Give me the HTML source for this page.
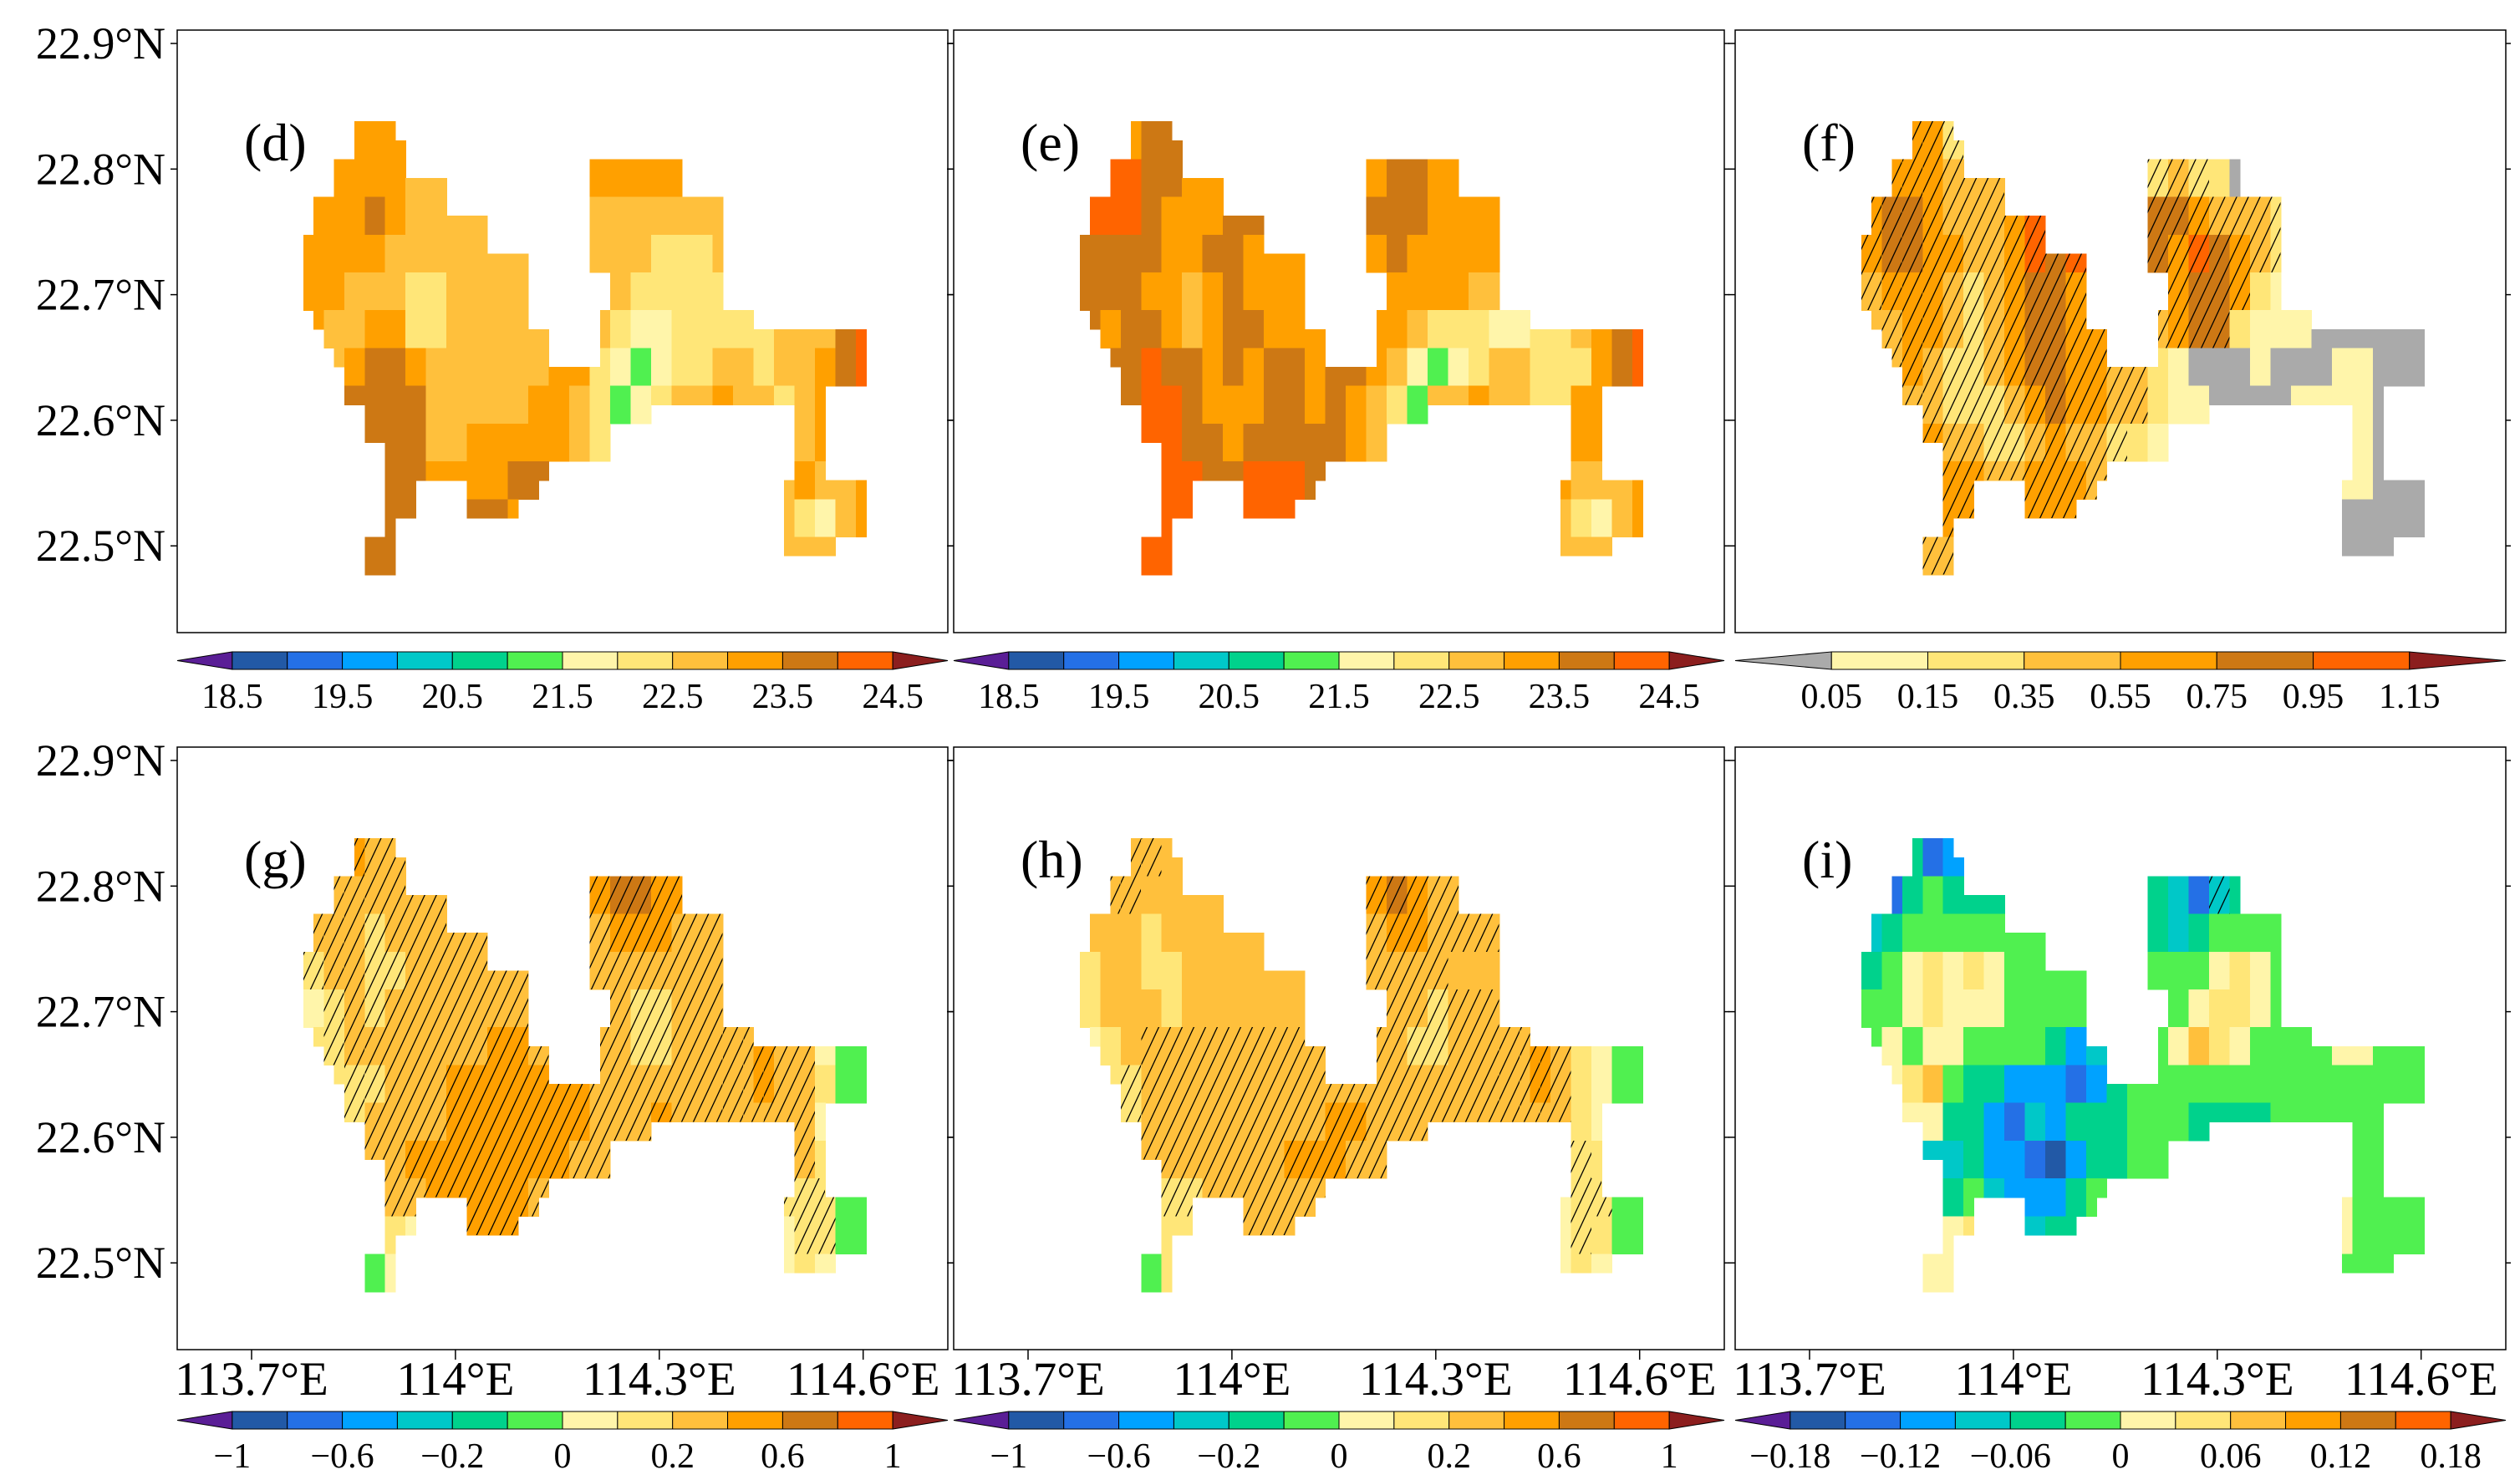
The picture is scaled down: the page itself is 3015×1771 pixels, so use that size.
<!DOCTYPE html>
<html><head><meta charset="utf-8"><title>Shenzhen maps</title>
<style>html,body{margin:0;padding:0;background:#fff}svg{display:block}</style></head>
<body>
<svg id="fig" xmlns="http://www.w3.org/2000/svg" width="3015" height="1771" viewBox="0 0 3015 1771">
<defs>
<pattern id="hatch" patternUnits="userSpaceOnUse" width="14" height="30">
<line x1="-7" y1="45" x2="21" y2="-15" stroke="#000" stroke-width="1.3"/>
<line x1="7" y1="45" x2="35" y2="-15" stroke="#000" stroke-width="1.3"/>
<line x1="-21" y1="45" x2="7" y2="-15" stroke="#000" stroke-width="1.3"/>
</pattern>
</defs>
</svg>
<script>
// ---- data ----
const panelNames = ['d','e','f','g','h','i'];
const latTicks = [22.5, 22.6, 22.7, 22.8, 22.9];
const lonTicks = [113.7, 114.0, 114.3, 114.6];
const lonTickLabels = ['113.7°E','114°E','114.3°E','114.6°E'];
const cbTicksTemp = ['18.5','19.5','20.5','21.5','22.5','23.5','24.5'];
const cbTicksF = ['0.05','0.15','0.35','0.55','0.75','0.95','1.15'];
const cbTicksDiff = ['−1','−0.6','−0.2','0','0.2','0.6','1'];
const cbTicksI = ['−0.18','−0.12','−0.06','0','0.06','0.12','0.18'];
// grid: fine mask runs per row (column index ranges), 24 rows x 55 cols
const maskRuns = [
 [5,8],[5,9],[3,9,28,36],[3,13,28,36],[1,13,28,40],[1,17,28,40],[0,17,28,40],[0,21,28,40],
 [0,21,30,40],[0,21,30,40],[1,21,29,43],[2,23,29,54],[3,23,29,54],[4,54],[4,50],[6,33,48,50],
 [6,29,48,50],[8,29,48,50],[8,23,48,50],[8,10,16,22,47,54],[8,10,16,20,47,54],[8,8,47,54],[6,8,47,51],[6,8]
];
// level codes per 2x2 block (uppercase = hatched / significant)
const dVals = [
 "..kkk.......................",
 ".kkkkjj.......kkkkk.........",
 "kkklkjjjj.....jjjjjjj.......",
 "kkkkjjjjjjj...jjjiiij.......",
 "kkjjjiijjjj....jiiiii.......",
 "kjjkkiijjjjj..jihhiiiiijjjlm",
 "jjkllkjjjjjjkkihghiijjijjklm",
 "jjlllljjjjjkkjighijjkjjijkkl",
 "...llljjkkkkkji.........jk..",
 "....llkkkkll...........jkjjk",
 "....ll..llk............jihjk",
 "...ll..................jjj.."];
const eVals = [
 "..kll.......................",
 ".mmllkk.......kllkk.........",
 "mmmlkkkll.....lllkkkk.......",
 "llllkkllkkk...klkkkkk.......",
 "lllkkjklkkk....kkkkjj.......",
 "lkllkjkllkkk..kkjiiihhiijklm",
 "lllmllklkllkllkjhghijjiiiklm",
 "lllmmlkkkllklkjigjjkjjiikkkm",
 "...mmllklllllkj.........kk..",
 "....mmllmmml...........kjjjk",
 "....mm..mmm............jihjk",
 "...mm..................jjj.."];
const fVals = [
 "..EEC.......................",
 ".EEEDDD.......CDCca.........",
 "EFFEDDDEG.....FFEDDDC.......",
 "EFFEEDDEGFG...FEGFEDC.......",
 "DEEEDCDEFFE....EFFEcb.......",
 "dDEEDCDEFFEE..DEFFcbbbaaaaaa",
 "DDEDCCDEFFEEDDcbaaabaaabbaaa",
 "DDDDCCCDEFEEDDcbbaaaabbbbaaa",
 "...EDDCCDEDDCcb.........ba..",
 "....EEDDEEED...........bbaaa",
 "....EE..EEE............aaaaa",
 "...DD..................aaa.."];
const gVals = [
 "..KJJ.......................",
 ".JJJJJJ.......KLLKK.........",
 "JJJIJJJJJ.....JKKKJJJ.......",
 "IJJIIJJJJJJ...JJJJJJJ.......",
 "hIJIJJJJJJJ....JIIJJJ.......",
 "iIJJJJJJJKKJ..JJIIJJJJKJJhgg",
 "iiIIJJJKKKKKKKJJJJJJJJKJJigg",
 "iiIJJJJKKKKKKKJJJKJJJJJJJhgg",
 "...JJKKKKKKKKJJ.........Ji..",
 "....JJKKKKKJ...........IIIgg",
 "....ih..KKK............hIIgg",
 "...gh..................hih.."];
const hVals = [
 "..JJj.......................",
 ".JJjjjj.......KLKJJ.........",
 "jjjijjjjj.....JKKJJJJ.......",
 "ijjiijjjjjj...JJJJjjj.......",
 "ijjjijjjjjj....JJIJJJ.......",
 "hijJJJJJJJJJ..JJIIJJJJKJihgg",
 "iiIJJJJJJJJJJJJJJJJJJJKJihgg",
 "iiIJJJJJJJJJKKJJJJJJJJJJihgg",
 "...JJJJJJJKKKJJ.........Ii..",
 "....IIJJJJJJ...........hIIgg",
 "....ii..JJJ............hIigg",
 "...gi..................hih.."];
const iVals = [
 "..fcd.......................",
 ".cfgfff.......fecEf.........",
 "efggggggg.....fefgggg.......",
 "fghihihgggg...ggghihg.......",
 "gghihhhgggg....ghiihg.......",
 "ghghhggggfde..ghjihgggghhggg",
 "hhijgffdddcdfggggggggggggggg",
 "hhhhffdcedfffgggffffgggggggg",
 "...eefddcbdffgg.........gg..",
 "....fgedddfg...........hgggg",
 "....hi..eff............hgggg",
 "...hh..................ggg.."];

// ---- styling / geometry ----
const NS='http://www.w3.org/2000/svg';
const svg=document.getElementById('fig');
const pal1={a:'#5a1e96',b:'#2259a6',c:'#2470e6',d:'#00a2ff',e:'#00c8c8',f:'#00d28c',g:'#50f050',h:'#fff5aa',i:'#ffe678',j:'#ffc03c',k:'#ffa000',l:'#cd7814',m:'#ff6400',n:'#8c1e1e'};
const pal2={a:'#aaaaaa',b:'#fff5aa',c:'#ffe678',d:'#ffc03c',e:'#ffa000',f:'#cd7814',g:'#ff6400',h:'#8c1e1e'};
const lefts=[212,1141,2076], tops=[36,894], PW=922, PH=721;
const LON0=113.776, DLON=0.01506, LAT0=22.838, DLAT=0.01504;
function lonX(p,lon){return lefts[p%3]+89+(lon-113.7)*813;}
function latY(p,lat){return tops[Math.floor(p/3)]+16+(22.9-lat)*1503;}
function mk(tag,attrs,parent){const e=document.createElementNS(NS,tag);for(const k in attrs)e.setAttribute(k,attrs[k]);(parent||svg).appendChild(e);return e;}

const allVals=[dVals,eVals,fVals,gVals,hVals,iVals];
const pals=[pal1,pal1,pal2,pal1,pal1,pal1];
const cbLabels=[cbTicksTemp,cbTicksTemp,cbTicksF,cbTicksDiff,cbTicksDiff,cbTicksI];

for(let p=0;p<6;p++){
  const L=lefts[p%3], T=tops[Math.floor(p/3)];
  const g=mk('g',{});
  
  
  const vals=allVals[p], pal=pals[p];
  const cells=mk('g',{'shape-rendering':'crispEdges'},g);
  
  
  for(let r=0;r<maskRuns.length;r++){
    const runs=maskRuns[r];
    for(let q=0;q<runs.length;q+=2){
      for(let c=runs[q];c<=runs[q+1];c++){
        let ch=vals[Math.floor(r/2)][Math.floor(c/2)];
        if(ch==='.'){ch='k';}
        const hatched=(ch!==ch.toLowerCase());
        const lv=ch.toLowerCase();
        const x0=lonX(p,LON0+c*DLON), x1=lonX(p,LON0+(c+1)*DLON);
        const y0=latY(p,LAT0-r*DLAT), y1=latY(p,LAT0-(r+1)*DLAT);
        const rc=mk('rect',{x:x0.toFixed(1),y:y0.toFixed(1),width:(x1-x0+0.6).toFixed(1),height:(y1-y0+0.6).toFixed(1),fill:pal[lv]||'#ffa000'},cells);
        
        
        if(hatched){
          const hr=mk('rect',{x:x0.toFixed(1),y:y0.toFixed(1),width:(x1-x0).toFixed(1),height:(y1-y0).toFixed(1),fill:'url(#hatch)'},cells);
          
          
        }
      }
    }
  }
  const fr=mk('rect',{x:L,y:T,width:PW,height:PH,fill:'none',stroke:'#000','stroke-width':1.5},g);
  
  
  latTicks.forEach(lat=>{
    const y=latY(p,lat);
    const t1=mk('line',{x1:L-8,y1:y,x2:L,y2:y,stroke:'#000','stroke-width':1.5},g);
    
    
    const t2=mk('line',{x1:L+PW,y1:y,x2:L+PW+6,y2:y,stroke:'#000','stroke-width':1.5},g);
    
    
    if(p%3===0){
      const tx=mk('text',{x:L-14,y:y+18,'text-anchor':'end','font-family':'Liberation Serif, serif','font-size':54},g);
      tx.textContent=lat.toFixed(1)+'°N';
      
      
    }
  });
  if(p>=3){
    lonTicks.forEach((lon,i)=>{
      const x=lonX(p,lon);
      const t=mk('line',{x1:x,y1:T+PH,x2:x,y2:T+PH+12,stroke:'#000','stroke-width':1.5},g);
      
      
      const tx=mk('text',{x:x,y:T+PH+54,'text-anchor':'middle','font-family':'Liberation Serif, serif','font-size':57},g);
      tx.textContent=lonTickLabels[i];
      
      
    });
  }
  const pl=mk('text',{x:L+80,y:T+156,'font-family':'Liberation Serif, serif','font-size':64},g);
  pl.textContent='('+panelNames[p]+')';
  
  

  const cb=mk('g',{},g);
  
  
  const cy=(p<3)?780:1689, ch=21;
  const keys=Object.keys(pal);
  const nBox=keys.length-2, units=nBox+2, u=PW/units;
  const triL=mk('polygon',{points:`${L},${cy+ch/2} ${L+u},${cy} ${L+u},${cy+ch}`,fill:pal[keys[0]],stroke:'#000','stroke-width':1},cb);
  
  
  for(let b=0;b<nBox;b++){
    const bx=mk('rect',{x:L+u*(1+b),y:cy,width:u,height:ch,fill:pal[keys[1+b]],stroke:'#000','stroke-width':1},cb);
    
    
  }
  const triR=mk('polygon',{points:`${L+PW},${cy+ch/2} ${L+PW-u},${cy} ${L+PW-u},${cy+ch}`,fill:pal[keys[keys.length-1]],stroke:'#000','stroke-width':1},cb);
  
  
  const labs=cbLabels[p];
  const step=(nBox===12)?2:1;
  labs.forEach((s,i)=>{
    const tx=mk('text',{x:L+u*(1+i*step),y:cy+67,'text-anchor':'middle','font-family':'Liberation Serif, serif','font-size':42},cb);
    tx.textContent=s;
    
    
  });
}
</script>
</body></html>
